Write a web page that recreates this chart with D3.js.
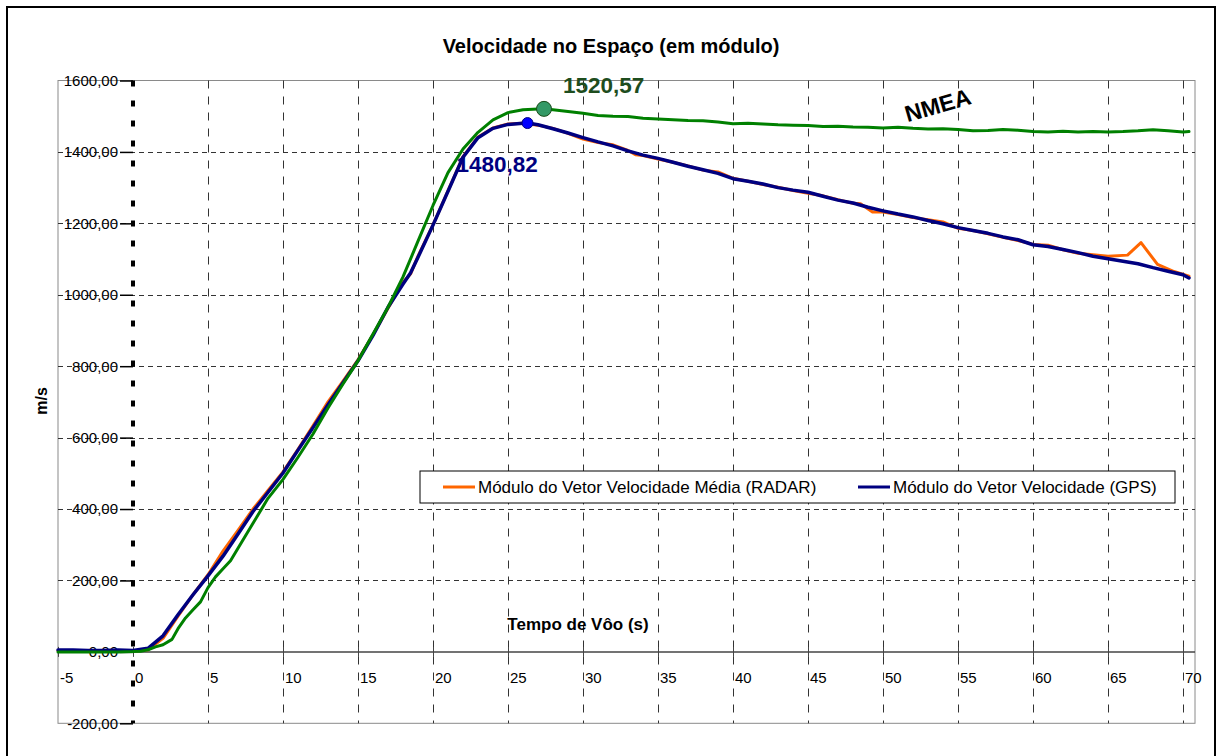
<!DOCTYPE html>
<html>
<head>
<meta charset="utf-8">
<script src="https://cdn.jsdelivr.net/npm/d3@7/dist/d3.min.js"></script>
<style>
  html, body { margin: 0; padding: 0; background: #ffffff; }
  svg { display: block; font-family: "Liberation Sans", Arial, sans-serif; }
</style>
</head>
<body>
<svg id="chart" width="1218" height="756"></svg>
<script>
// ---- Data ----------------------------------------------------------------
const chartTitle = "Velocidade no Espaço (em módulo)";
const xTitle = "Tempo de Vôo (s)";
const yTitle = "m/s";
const seriesNames = ["Módulo do Vetor Velocidade Média (RADAR)", "Módulo do Vetor Velocidade (GPS)", "NMEA"];

const xTicks = [-5, 0, 5, 10, 15, 20, 25, 30, 35, 40, 45, 50, 55, 60, 65, 70];
const yTicks = [-200, 0, 200, 400, 600, 800, 1000, 1200, 1400, 1600];

// RADAR: mean velocity vector magnitude
const radarT = [-5, -4, -3, -2, -1, 0, 1, 2, 3, 4, 5, 6, 7, 8, 9, 10, 11, 12, 13, 14, 15, 16, 17, 18, 18.5, 19, 20,
  21, 22, 23, 24, 25, 26, 27, 28, 29, 30, 31, 32, 33, 33.5, 34, 35, 36, 37, 38, 39, 40, 41, 42, 43, 44, 45, 46,
  47, 48, 48.5, 49.3, 50, 51, 52, 53, 54, 55, 56, 57, 58, 59, 60, 61, 62, 63, 64, 65, 66.3, 67.2, 68.3, 69.4, 70.4];
const radarV = [3, 3, 2, 3, 3, 2, 6, 38, 100, 160, 216, 282, 340, 400, 452, 504, 567, 633, 700, 758, 818, 888,
  962, 1035, 1058, 1108, 1196, 1291, 1387, 1442, 1467, 1478, 1480, 1475, 1466, 1452, 1436, 1426, 1420, 1404,
  1392, 1390, 1380, 1371, 1361, 1349, 1344, 1326, 1318, 1309, 1301, 1292, 1284, 1277, 1266, 1256, 1255, 1232,
  1232, 1225, 1216, 1210, 1204, 1186, 1180, 1171, 1161, 1152, 1141, 1139, 1126, 1116, 1112, 1108, 1111, 1146,
  1085, 1065, 1052];

// GPS: velocity vector magnitude
const gpsT = [-5, -4, -3, -2, -1, 0, 1, 2, 3, 4, 5, 6, 7, 8, 9, 10, 11, 12, 13, 14, 15, 16, 17, 18, 18.5, 19, 20,
  21, 22, 23, 24, 25, 26, 26.3, 27, 28, 29, 30, 31, 32, 33, 34, 35, 36, 37, 38, 39, 40, 41, 42, 43, 44, 45, 46,
  47, 48, 49, 50, 51, 52, 53, 54, 55, 56, 57, 58, 59, 60, 61, 62, 63, 64, 65, 66, 67, 68, 69, 70, 70.4];
const gpsV = [5, 5, 4, 4, 5, 4, 10, 45, 104, 160, 213, 268, 330, 393, 447, 501, 565, 628, 692, 754, 815, 886,
  965, 1030, 1061, 1105, 1195, 1290, 1385, 1440, 1466, 1477, 1480, 1480.82, 1476, 1465, 1453, 1440, 1428, 1417,
  1403, 1391, 1382, 1371, 1360, 1350, 1340, 1325, 1318, 1310, 1300, 1293, 1287, 1276, 1265, 1257, 1245, 1235,
  1226, 1218, 1208, 1199, 1188, 1180, 1172, 1162, 1154, 1140, 1135, 1127, 1118, 1108, 1101, 1094, 1087, 1076,
  1066, 1056, 1047];

// NMEA
const nmeaT = [-5, -4, -3, -2, -1, 0, 0.5, 1, 1.5, 2, 2.6, 3, 3.5, 4, 4.5, 5, 5.5, 6, 6.5, 7, 8, 9, 10, 11, 12,
  13, 14, 15, 16, 17, 18, 19, 20, 21, 22, 23, 24, 25, 26, 27, 27.4, 28, 29, 30, 31, 32, 33, 34, 35, 36, 37, 38,
  39, 40, 41, 42, 43, 44, 45, 46, 47, 48, 49, 50, 51, 52, 53, 54, 55, 56, 57, 58, 59, 60, 61, 62, 63, 64, 65,
  66, 67, 68, 69, 70, 70.4];
const nmeaV = [0, 0, 0, 0, 0, 1, 2, 6, 14, 20, 35, 65, 95, 118, 140, 180, 210, 233, 255, 290, 360, 430, 483,
  545, 610, 683, 750, 815, 890, 965, 1050, 1150, 1250, 1342, 1408, 1455, 1490, 1510, 1518, 1520, 1520.57, 1518,
  1513, 1508, 1502, 1500, 1499, 1494, 1492, 1490, 1488, 1487, 1484, 1479, 1480, 1478, 1476, 1475, 1474, 1471,
  1472, 1470, 1469, 1467, 1469, 1466, 1464, 1465, 1463, 1459, 1460, 1463, 1461, 1457, 1456, 1458, 1456, 1457,
  1456, 1457, 1459, 1462, 1459, 1456, 1457];

// ---- Layout --------------------------------------------------------------
const plot = { left: 58, right: 1195, top: 80.5, bottom: 723.3 };
const colors = { radar: "#FF6600", gps: "#000080", nmea: "#008000" };

const svg = d3.select("#chart");
const ptBR = d3.formatLocale({ decimal: ",", thousands: ".", grouping: [3], currency: ["", ""], minus: "-" });
const fmt2 = ptBR.format(".2f");

const x = d3.scaleLinear().domain([-5, 70.8]).range([plot.left, plot.right]);
const y = d3.scaleLinear().domain([-200, 1600]).range([plot.bottom, plot.top]);

// outer chart frame
svg.append("rect")
  .attr("x", 7).attr("y", 7).attr("width", 1208).attr("height", 760)
  .attr("fill", "#fff").attr("stroke", "#000").attr("stroke-width", 2);

// plot area
svg.append("rect")
  .attr("x", plot.left).attr("y", plot.top)
  .attr("width", plot.right - plot.left).attr("height", plot.bottom - plot.top)
  .attr("fill", "#fff").attr("stroke", "#8a8a8a").attr("stroke-width", 1);

// horizontal grid
svg.append("g").selectAll("line")
  .data(yTicks.filter(v => v !== 0 && v !== -200 && v !== 1600))
  .join("line")
  .attr("x1", plot.left).attr("x2", plot.right)
  .attr("y1", d => Math.round(y(d)) + 0.5).attr("y2", d => Math.round(y(d)) + 0.5)
  .attr("stroke", "#333").attr("stroke-width", 1).attr("stroke-dasharray", "5,4");

// vertical grid
svg.append("g").selectAll("line")
  .data(xTicks.filter(v => v !== 0 && v !== -5))
  .join("line")
  .attr("x1", d => Math.round(x(d)) + 0.5).attr("x2", d => Math.round(x(d)) + 0.5)
  .attr("y1", plot.top).attr("y2", plot.bottom)
  .attr("stroke", "#333").attr("stroke-width", 1).attr("stroke-dasharray", "8,8");

// x axis along zero velocity
const xAxis = d3.axisBottom(x).tickValues(xTicks).tickSize(5).tickFormat(d => d);
const gx = svg.append("g").attr("transform", `translate(0,${y(0)})`).call(xAxis);
gx.select(".domain").attr("stroke", "#444").attr("stroke-width", 1.5)
  .attr("d", `M${plot.left},0H${plot.right}`);
gx.selectAll(".tick line").attr("stroke", "#444").attr("y1", -5).attr("y2", 5);
gx.selectAll(".tick text")
  .attr("text-anchor", "start").attr("x", 1.5).attr("y", 31).attr("dy", null)
  .attr("fill", "#000").style("font-size", "15px")
  .style("font-family", "'Liberation Sans', Arial, sans-serif");

// y axis at launch time (t = 0)
const yAxis = d3.axisLeft(y).tickValues(yTicks).tickSize(13).tickFormat(fmt2);
const gy = svg.append("g").attr("transform", `translate(${x(0)},0)`).call(yAxis);
gy.select(".domain").remove();
gy.selectAll(".tick line").attr("stroke", "#000").attr("stroke-width", 1.5);
gy.selectAll(".tick text")
  .attr("x", -15).attr("fill", "#000").style("font-size", "15px")
  .style("font-family", "'Liberation Sans', Arial, sans-serif");
svg.append("line")
  .attr("x1", x(0)).attr("x2", x(0))
  .attr("y1", plot.top).attr("y2", plot.bottom)
  .attr("stroke", "#000").attr("stroke-width", 4).attr("stroke-dasharray", "6,14");

// series lines
const lineGen = d3.line().x(d => x(d[0])).y(d => y(d[1]));
function drawSeries(ts, vs, color, width) {
  svg.append("path")
    .datum(ts.map((t, i) => [t, vs[i]]))
    .attr("d", lineGen)
    .attr("fill", "none")
    .attr("stroke", color)
    .attr("stroke-width", width)
    .attr("stroke-linejoin", "round")
    .attr("stroke-linecap", "round");
}
drawSeries(radarT, radarV, colors.radar, 3);
drawSeries(gpsT, gpsV, colors.gps, 3.5);
drawSeries(nmeaT, nmeaV, colors.nmea, 3);

// peak markers
const gpsPeakIdx = d3.maxIndex(gpsV);
const nmeaPeakIdx = d3.maxIndex(nmeaV);
const gpsPeak = [gpsT[gpsPeakIdx], gpsV[gpsPeakIdx]];
const nmeaPeak = [nmeaT[nmeaPeakIdx], nmeaV[nmeaPeakIdx]];

svg.append("circle")
  .attr("cx", x(nmeaPeak[0])).attr("cy", y(nmeaPeak[1])).attr("r", 7.5)
  .attr("fill", "#339966").attr("stroke", "#1b4d1b").attr("stroke-width", 1);
svg.append("circle")
  .attr("cx", x(gpsPeak[0])).attr("cy", y(gpsPeak[1])).attr("r", 5.5)
  .attr("fill", "#0000FF").attr("stroke", "#000080").attr("stroke-width", 1);

svg.append("text")
  .attr("x", x(nmeaPeak[0]) + 19).attr("y", y(nmeaPeak[1]) - 16)
  .attr("fill", "#1e4d1e").style("font-size", "22.5px").style("font-weight", "bold")
  .text(fmt2(nmeaPeak[1]));
svg.append("text")
  .attr("x", x(gpsPeak[0]) - 71).attr("y", y(gpsPeak[1]) + 49)
  .attr("fill", "#000080").style("font-size", "22.5px").style("font-weight", "bold")
  .text(fmt2(gpsPeak[1]));

// series label for NMEA
svg.append("text")
  .attr("transform", "translate(940,113) rotate(-16)")
  .attr("text-anchor", "middle")
  .attr("fill", "#000").style("font-size", "23px").style("font-weight", "bold")
  .text(seriesNames[2]);

// titles
svg.append("text")
  .attr("x", 611).attr("y", 53).attr("text-anchor", "middle")
  .style("font-size", "20px").style("font-weight", "bold")
  .text(chartTitle);
svg.append("text")
  .attr("x", 578).attr("y", 630).attr("text-anchor", "middle")
  .style("font-size", "17px").style("font-weight", "bold")
  .text(xTitle);
svg.append("text")
  .attr("transform", "translate(47,401) rotate(-90)").attr("text-anchor", "middle")
  .style("font-size", "16px").style("font-weight", "bold")
  .text(yTitle);

// legend
const legend = svg.append("g").attr("transform", "translate(420,471)");
legend.append("rect")
  .attr("width", 755).attr("height", 32)
  .attr("fill", "#fff").attr("stroke", "#000").attr("stroke-width", 1);
const legendItems = [
  { name: seriesNames[0], color: colors.radar, x0: 23 },
  { name: seriesNames[1], color: colors.gps, x0: 438 }
];
legendItems.forEach(it => {
  legend.append("line")
    .attr("x1", it.x0).attr("x2", it.x0 + 32).attr("y1", 16).attr("y2", 16)
    .attr("stroke", it.color).attr("stroke-width", 3);
  legend.append("text")
    .attr("x", it.x0 + 35).attr("y", 22)
    .style("font-size", "17px")
    .text(it.name);
});
</script>
</body>
</html>
